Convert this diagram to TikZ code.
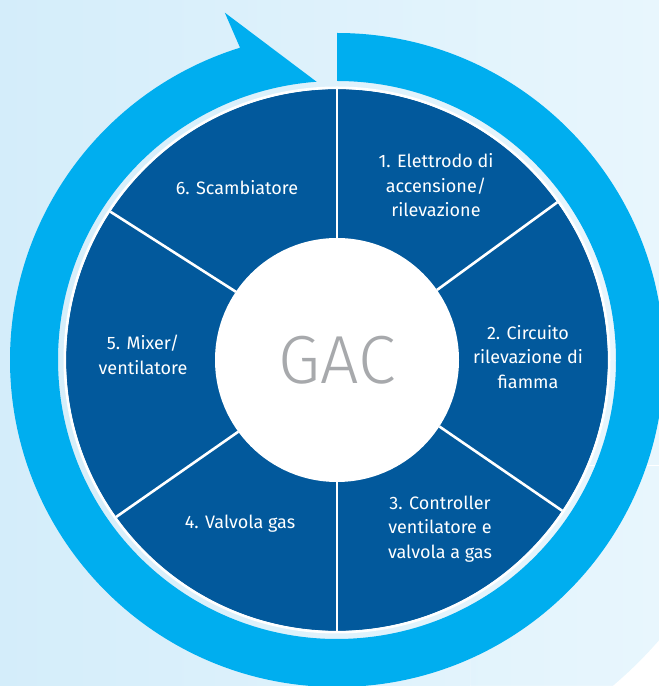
\documentclass[tikz,border=0pt]{standalone}
\usepackage{fontspec}
\setmainfont{Fira Sans}
\newfontfamily\hubfont{Fira Sans}[UprightFont=* Light]
\usetikzlibrary{calc}
\definecolor{gacdark}{HTML}{02599C}
\definecolor{gaccyan}{HTML}{00AEEF}
\definecolor{gacbgl}{HTML}{D4EDFA}
\definecolor{gacbgr}{HTML}{E8F6FD}
\definecolor{gacgray}{HTML}{A7A9AC}

\begin{document}
\begin{tikzpicture}[x = 1pt, y = 1pt]
        \tikzstyle{sector} = [text = white, align = center, inner sep = 0pt, font = \fontsize{18}{24.5}\selectfont]
        \tikzstyle{divider} = [draw = white, line width = 2.6pt]
        \useasboundingbox (0, 0) rectangle (659, 686);
        \shade[left color = gacbgl, right color = gacbgr] (0, 0) rectangle (659, 686);
        \begin{scope}
          \clip (470, 0) rectangle (659, 220);
          \fill[white, even odd rule] (470, 0) rectangle (659, 220) (337, 326) circle (427);
        \end{scope}
        \coordinate (C) at (337, 326);
        \fill[gaccyan] (C) ++(90:327) arc[start angle = 90, end angle = -252.75, radius = 327]
          -- ($(C) + (107.9:365)$) -- ($(C) + (94.2:279)$)
          arc[start angle = 94.2, delta angle = 355.8, radius = 279] -- cycle;
        \fill[gacdark] (C) circle (271);
        \draw[white, line width = 2.6pt] (C) circle (272.2);
        \node[circle, fill = white, minimum size = 244pt, inner sep = 0pt, outer sep = 0pt, text = gacgray, font = \hubfont\fontsize{68}{68}\selectfont] (hub) at (C) {GAC};
        \coordinate (R-1) at ($(C) + (90:271)$);
        \coordinate (R-2) at ($(C) + (35.6:271)$);
        \coordinate (R-3) at ($(C) + (-33.8:271)$);
        \coordinate (R-4) at ($(C) + (-90:271)$);
        \coordinate (R-5) at ($(C) + (-144.6:271)$);
        \coordinate (R-6) at ($(C) + (146.8:271)$);
        \draw[divider] (hub.90) -- (R-1);
        \draw[divider] (hub.35.6) -- (R-2);
        \draw[divider] (hub.-33.8) -- (R-3);
        \draw[divider] (hub.-90) -- (R-4);
        \draw[divider] (hub.-144.6) -- (R-5);
        \draw[divider] (hub.146.8) -- (R-6);
        \node[sector] (P-1) at (436, 500.5) {1. Elettrodo di\\accensione/\\rilevazione};
        \node[sector] (P-2) at (528, 329) {2. Circuito\\rilevazione di\\fiamma};
        \node[sector] (P-3) at (440, 157) {3. Controller\\ventilatore e\\valvola a gas};
        \node[sector] (P-4) at (240, 162) {4. Valvola gas};
        \node[sector] (P-5) at (143, 331) {5. Mixer/\\ventilatore};
        \node[sector] (P-6) at (237, 498) {6. Scambiatore};
      \end{tikzpicture}
\end{document}
